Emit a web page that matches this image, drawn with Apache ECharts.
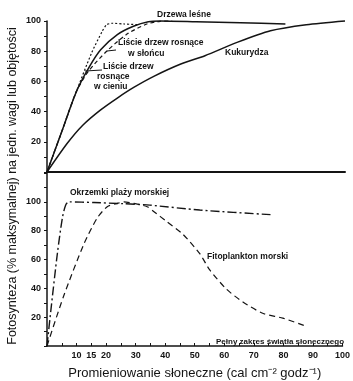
<!DOCTYPE html>
<html>
<head>
<meta charset="utf-8">
<script src="https://cdn.jsdelivr.net/npm/echarts@6/dist/echarts.min.js"></script>
<style>
html, body { margin: 0; padding: 0; background: #fff; }
#main { width: 353px; height: 381px; }
</style>
</head>
<body>
<div id="main"></div>
<script>
// krzywe fotosyntezy [promieniowanie, % maks.]
var drzewaLesne = [[0, 0], [5, 27], [9.8, 53], [14, 69], [18, 81], [23.6, 91], [29, 96.5], [34, 99.5], [38, 100], [50, 99.5], [65, 98.8], [80, 98]];
var liscieSlonce = [[0, 0], [5, 27], [9.8, 53], [14, 67], [20.3, 80.5], [27, 91.5], [33.5, 98], [38, 99.8], [42, 100]];
var liscieCien = [[0, 0], [5, 27], [9.8, 53], [15, 79], [18.5, 93], [20, 97.5], [22, 98.5], [26, 98], [31, 97.5]];
var kukurydza = [[0, 0], [6.8, 19], [12, 31], [17.9, 41], [23.6, 49], [29.1, 56], [36, 63.5], [44.9, 71.5], [53, 77], [64, 86], [75, 93.5], [87, 97.5], [100, 100]];
var okrzemki = [[0, 0], [1.25, 23.7], [3.5, 64], [5.2, 88.8], [6.3, 97.7], [7.4, 100], [15.9, 99.5], [26, 98.7], [34.8, 97.7], [51.7, 94.3], [76.4, 91]];
var fitoplankton = [[0, 0], [5.7, 35], [12.5, 70.8], [17, 88.8], [20.4, 96.6], [23.8, 98.9], [26, 100], [29.4, 98.9], [33.9, 96.6], [36.1, 93.3], [40.4, 86.5], [46, 77.5], [51.7, 64], [55, 53], [60.7, 39.5], [66.3, 30.5], [73, 22.7], [79.8, 19.3], [87.7, 13.7]];

// podpisy osi
var xTickLabels = [10, 15, 20, 30, 40, 50, 60, 70, 80, 90, 100];
var yTickLabels = [20, 40, 60, 80, 100];

var ink = "#141414";
var labelFont = "Liberation Sans";

var myChart = echarts.init(document.getElementById("main"));

function yAxisCfg(gridIndex, max) {
	return {
		type: "value",
		gridIndex: gridIndex,
		min: 0,
		max: max,
		interval: 10,
		axisLine: { show: true, lineStyle: { color: ink, width: 1.5 } },
		axisTick: { show: true, length: 3, lineStyle: { color: ink } },
		splitLine: { show: false },
		axisLabel: {
			margin: 6,
			color: ink,
			fontFamily: labelFont,
			fontWeight: "bold",
			fontSize: 9,
			formatter: function (v) {
				return yTickLabels.indexOf(v) > -1 ? v : "";
			}
		}
	};
}

function curve(name, data, grid, dash, width) {
	return {
		name: name,
		type: "line",
		xAxisIndex: grid,
		yAxisIndex: grid,
		data: data,
		smooth: 0.25,
		symbol: "none",
		clip: false,
		lineStyle: { color: ink, width: width, type: dash }
	};
}

function note(text, x, y, size) {
	return {
		type: "text",
		x: x,
		y: y,
		style: {
			text: text,
			fill: ink,
			font: "bold " + (size || 8.5) + "px " + labelFont,
			align: "left",
			verticalAlign: "middle"
		}
	};
}

var option = {
	backgroundColor: "#fff",
	animation: false,
	grid: [
		{ left: 47, right: 8, top: 21, bottom: 209 },
		{ left: 47, right: 8, top: 173, bottom: 29 }
	],
	xAxis: [
		{
			type: "value",
			gridIndex: 0,
			min: 0,
			max: 100,
			axisLine: { show: true, lineStyle: { color: ink, width: 2 } },
			axisTick: { show: false },
			axisLabel: { show: false },
			splitLine: { show: false }
		},
		{
			type: "value",
			gridIndex: 1,
			min: 0,
			max: 100,
			interval: 5,
			name: "Promieniowanie słoneczne (cal cm⁻² godz⁻¹)",
			nameLocation: "middle",
			nameGap: 21,
			nameTextStyle: { color: ink, fontFamily: "Liberation Sans", fontSize: 13 },
			axisLine: { show: true, lineStyle: { color: ink, width: 1.5 } },
			axisTick: { show: true, inside: true, length: 3, lineStyle: { color: ink } },
			splitLine: { show: false },
			axisLabel: {
				margin: 5,
				color: ink,
				fontFamily: labelFont,
				fontWeight: "bold",
				fontSize: 9,
				formatter: function (v) {
					return xTickLabels.indexOf(v) > -1 ? v : "";
				}
			}
		}
	],
	yAxis: [yAxisCfg(0, 100), yAxisCfg(1, 120)],
	series: [
		curve("Drzewa leśne", drzewaLesne, 0, "solid", 1.5),
		curve("Liście drzew rosnące w słońcu", liscieSlonce, 0, [4, 3], 1.2),
		curve("Liście drzew rosnące w cieniu", liscieCien, 0, [2, 2], 1.2),
		curve("Kukurydza", kukurydza, 0, "solid", 1.5),
		curve("Okrzemki plaży morskiej", okrzemki, 1, [9, 3, 2, 3], 1.4),
		curve("Fitoplankton morski", fitoplankton, 1, [6, 4], 1.2)
	],
	graphic: [
		{
			type: "text",
			x: 13,
			y: 186,
			rotation: Math.PI / 2,
			style: {
				text: "Fotosynteza (% maksymalnej) na jedn. wagi lub objętości",
				fill: ink,
				font: "12.5px Liberation Sans",
				align: "center",
				verticalAlign: "middle"
			}
		},
		note("Drzewa leśne", 157, 15),
		note("Liście drzew rosnące", 118, 43),
		note("w słońcu", 128, 54),
		note("Liście drzew", 103, 67),
		note("rosnące", 97, 77),
		note("w cieniu", 94, 87),
		note("Kukurydza", 225, 53),
		note("Okrzemki plaży morskiej", 70, 193),
		note("Fitoplankton morski", 207, 257),
		note("Pełny zakres światła słonecznego", 216, 342, 8),
		{
			type: "line",
			shape: { x1: 107, y1: 51, x2: 116, y2: 50 },
			style: { stroke: ink, lineWidth: 1 }
		},
		{
			type: "line",
			shape: { x1: 85, y1: 71, x2: 102, y2: 70 },
			style: { stroke: ink, lineWidth: 1 }
		}
	]
};

myChart.setOption(option);
</script>
</body>
</html>
